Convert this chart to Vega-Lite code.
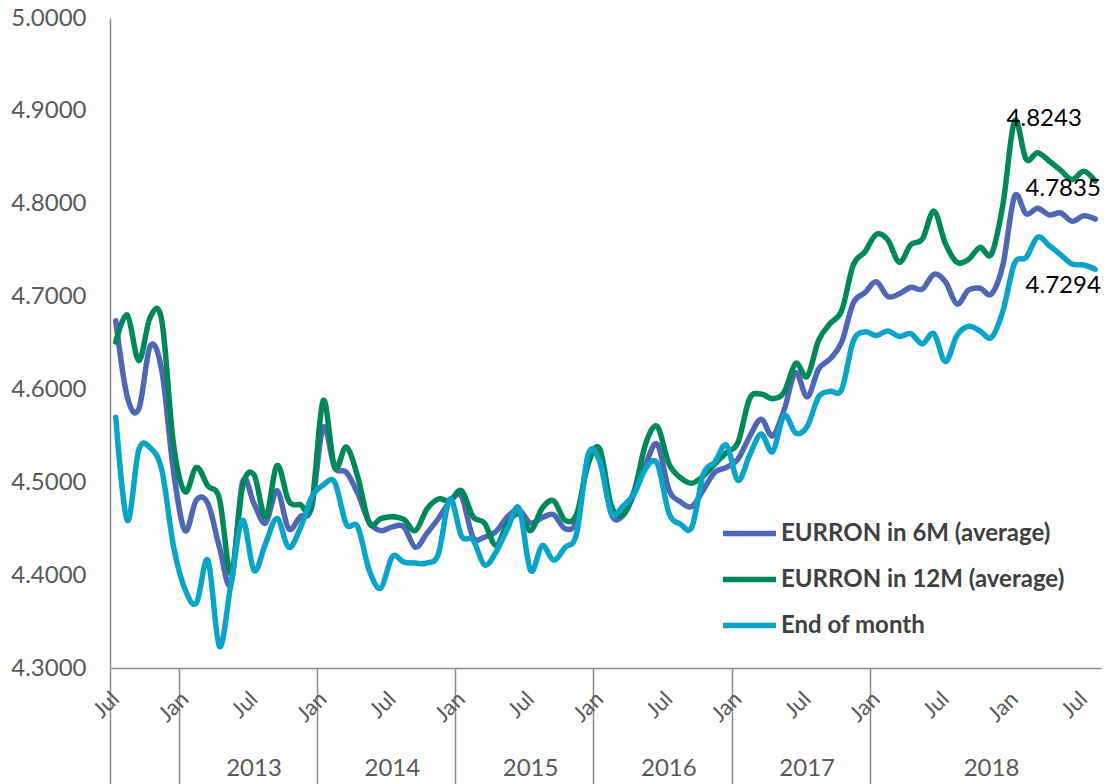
{
  "$schema": "https://vega.github.io/schema/vega-lite/v6.json",
  "width": 991,
  "height": 650,
  "autosize": {"type": "none"},
  "padding": {"left": 110, "top": 18, "right": 16, "bottom": 116},
  "background": "white",
  "config": {
    "view": {"stroke": null},
    "font": "Lato",
    "axis": {"grid": false, "title": null, "labelFont": "Lato"},
    "legend": {"labelFont": "Lato"}
  },
  "data": {"values": [
    {"month": "2012-07", "EURRON in 6M (average)": 4.674, "EURRON in 12M (average)": 4.651, "End of month": 4.570},
    {"month": "2012-08", "EURRON in 6M (average)": 4.592, "EURRON in 12M (average)": 4.680, "End of month": 4.459},
    {"month": "2012-09", "EURRON in 6M (average)": 4.579, "EURRON in 12M (average)": 4.631, "End of month": 4.535},
    {"month": "2012-10", "EURRON in 6M (average)": 4.647, "EURRON in 12M (average)": 4.678, "End of month": 4.537},
    {"month": "2012-11", "EURRON in 6M (average)": 4.620, "EURRON in 12M (average)": 4.674, "End of month": 4.513},
    {"month": "2012-12", "EURRON in 6M (average)": 4.513, "EURRON in 12M (average)": 4.542, "End of month": 4.432},
    {"month": "2013-01", "EURRON in 6M (average)": 4.448, "EURRON in 12M (average)": 4.490, "End of month": 4.385},
    {"month": "2013-02", "EURRON in 6M (average)": 4.481, "EURRON in 12M (average)": 4.516, "End of month": 4.370},
    {"month": "2013-03", "EURRON in 6M (average)": 4.477, "EURRON in 12M (average)": 4.496, "End of month": 4.416},
    {"month": "2013-04", "EURRON in 6M (average)": 4.430, "EURRON in 12M (average)": 4.482, "End of month": 4.323},
    {"month": "2013-05", "EURRON in 6M (average)": 4.391, "EURRON in 12M (average)": 4.402, "End of month": 4.391},
    {"month": "2013-06", "EURRON in 6M (average)": 4.500, "EURRON in 12M (average)": 4.495, "End of month": 4.459},
    {"month": "2013-07", "EURRON in 6M (average)": 4.477, "EURRON in 12M (average)": 4.508, "End of month": 4.405},
    {"month": "2013-08", "EURRON in 6M (average)": 4.456, "EURRON in 12M (average)": 4.463, "End of month": 4.434},
    {"month": "2013-09", "EURRON in 6M (average)": 4.491, "EURRON in 12M (average)": 4.518, "End of month": 4.461},
    {"month": "2013-10", "EURRON in 6M (average)": 4.450, "EURRON in 12M (average)": 4.480, "End of month": 4.430},
    {"month": "2013-11", "EURRON in 6M (average)": 4.463, "EURRON in 12M (average)": 4.476, "End of month": 4.450},
    {"month": "2013-12", "EURRON in 6M (average)": 4.473, "EURRON in 12M (average)": 4.476, "End of month": 4.484},
    {"month": "2014-01", "EURRON in 6M (average)": 4.559, "EURRON in 12M (average)": 4.588, "End of month": 4.497},
    {"month": "2014-02", "EURRON in 6M (average)": 4.516, "EURRON in 12M (average)": 4.516, "End of month": 4.500},
    {"month": "2014-03", "EURRON in 6M (average)": 4.511, "EURRON in 12M (average)": 4.538, "End of month": 4.455},
    {"month": "2014-04", "EURRON in 6M (average)": 4.488, "EURRON in 12M (average)": 4.506, "End of month": 4.452},
    {"month": "2014-05", "EURRON in 6M (average)": 4.457, "EURRON in 12M (average)": 4.456, "End of month": 4.405},
    {"month": "2014-06", "EURRON in 6M (average)": 4.448, "EURRON in 12M (average)": 4.461, "End of month": 4.386},
    {"month": "2014-07", "EURRON in 6M (average)": 4.452, "EURRON in 12M (average)": 4.463, "End of month": 4.420},
    {"month": "2014-08", "EURRON in 6M (average)": 4.452, "EURRON in 12M (average)": 4.460, "End of month": 4.414},
    {"month": "2014-09", "EURRON in 6M (average)": 4.430, "EURRON in 12M (average)": 4.448, "End of month": 4.413},
    {"month": "2014-10", "EURRON in 6M (average)": 4.445, "EURRON in 12M (average)": 4.471, "End of month": 4.413},
    {"month": "2014-11", "EURRON in 6M (average)": 4.461, "EURRON in 12M (average)": 4.482, "End of month": 4.423},
    {"month": "2014-12", "EURRON in 6M (average)": 4.479, "EURRON in 12M (average)": 4.480, "End of month": 4.482},
    {"month": "2015-01", "EURRON in 6M (average)": 4.485, "EURRON in 12M (average)": 4.491, "End of month": 4.442},
    {"month": "2015-02", "EURRON in 6M (average)": 4.441, "EURRON in 12M (average)": 4.463, "End of month": 4.438},
    {"month": "2015-03", "EURRON in 6M (average)": 4.441, "EURRON in 12M (average)": 4.456, "End of month": 4.411},
    {"month": "2015-04", "EURRON in 6M (average)": 4.447, "EURRON in 12M (average)": 4.432, "End of month": 4.425},
    {"month": "2015-05", "EURRON in 6M (average)": 4.463, "EURRON in 12M (average)": 4.456, "End of month": 4.450},
    {"month": "2015-06", "EURRON in 6M (average)": 4.470, "EURRON in 12M (average)": 4.466, "End of month": 4.472},
    {"month": "2015-07", "EURRON in 6M (average)": 4.456, "EURRON in 12M (average)": 4.448, "End of month": 4.405},
    {"month": "2015-08", "EURRON in 6M (average)": 4.462, "EURRON in 12M (average)": 4.472, "End of month": 4.432},
    {"month": "2015-09", "EURRON in 6M (average)": 4.465, "EURRON in 12M (average)": 4.480, "End of month": 4.416},
    {"month": "2015-10", "EURRON in 6M (average)": 4.450, "EURRON in 12M (average)": 4.459, "End of month": 4.430},
    {"month": "2015-11", "EURRON in 6M (average)": 4.459, "EURRON in 12M (average)": 4.466, "End of month": 4.445},
    {"month": "2015-12", "EURRON in 6M (average)": 4.525, "EURRON in 12M (average)": 4.520, "End of month": 4.530},
    {"month": "2016-01", "EURRON in 6M (average)": 4.530, "EURRON in 12M (average)": 4.536, "End of month": 4.522},
    {"month": "2016-02", "EURRON in 6M (average)": 4.466, "EURRON in 12M (average)": 4.475, "End of month": 4.467},
    {"month": "2016-03", "EURRON in 6M (average)": 4.464, "EURRON in 12M (average)": 4.465, "End of month": 4.474},
    {"month": "2016-04", "EURRON in 6M (average)": 4.488, "EURRON in 12M (average)": 4.491, "End of month": 4.488},
    {"month": "2016-05", "EURRON in 6M (average)": 4.520, "EURRON in 12M (average)": 4.542, "End of month": 4.515},
    {"month": "2016-06", "EURRON in 6M (average)": 4.541, "EURRON in 12M (average)": 4.560, "End of month": 4.520},
    {"month": "2016-07", "EURRON in 6M (average)": 4.492, "EURRON in 12M (average)": 4.520, "End of month": 4.467},
    {"month": "2016-08", "EURRON in 6M (average)": 4.479, "EURRON in 12M (average)": 4.505, "End of month": 4.455},
    {"month": "2016-09", "EURRON in 6M (average)": 4.474, "EURRON in 12M (average)": 4.499, "End of month": 4.452},
    {"month": "2016-10", "EURRON in 6M (average)": 4.492, "EURRON in 12M (average)": 4.507, "End of month": 4.509},
    {"month": "2016-11", "EURRON in 6M (average)": 4.511, "EURRON in 12M (average)": 4.520, "End of month": 4.522},
    {"month": "2016-12", "EURRON in 6M (average)": 4.516, "EURRON in 12M (average)": 4.532, "End of month": 4.540},
    {"month": "2017-01", "EURRON in 6M (average)": 4.525, "EURRON in 12M (average)": 4.543, "End of month": 4.502},
    {"month": "2017-02", "EURRON in 6M (average)": 4.549, "EURRON in 12M (average)": 4.590, "End of month": 4.529},
    {"month": "2017-03", "EURRON in 6M (average)": 4.568, "EURRON in 12M (average)": 4.595, "End of month": 4.552},
    {"month": "2017-04", "EURRON in 6M (average)": 4.550, "EURRON in 12M (average)": 4.590, "End of month": 4.533},
    {"month": "2017-05", "EURRON in 6M (average)": 4.578, "EURRON in 12M (average)": 4.597, "End of month": 4.572},
    {"month": "2017-06", "EURRON in 6M (average)": 4.618, "EURRON in 12M (average)": 4.628, "End of month": 4.553},
    {"month": "2017-07", "EURRON in 6M (average)": 4.592, "EURRON in 12M (average)": 4.614, "End of month": 4.560},
    {"month": "2017-08", "EURRON in 6M (average)": 4.622, "EURRON in 12M (average)": 4.653, "End of month": 4.592},
    {"month": "2017-09", "EURRON in 6M (average)": 4.633, "EURRON in 12M (average)": 4.671, "End of month": 4.598},
    {"month": "2017-10", "EURRON in 6M (average)": 4.651, "EURRON in 12M (average)": 4.685, "End of month": 4.600},
    {"month": "2017-11", "EURRON in 6M (average)": 4.693, "EURRON in 12M (average)": 4.734, "End of month": 4.652},
    {"month": "2017-12", "EURRON in 6M (average)": 4.704, "EURRON in 12M (average)": 4.748, "End of month": 4.662},
    {"month": "2018-01", "EURRON in 6M (average)": 4.716, "EURRON in 12M (average)": 4.767, "End of month": 4.658},
    {"month": "2018-02", "EURRON in 6M (average)": 4.700, "EURRON in 12M (average)": 4.761, "End of month": 4.663},
    {"month": "2018-03", "EURRON in 6M (average)": 4.703, "EURRON in 12M (average)": 4.737, "End of month": 4.657},
    {"month": "2018-04", "EURRON in 6M (average)": 4.710, "EURRON in 12M (average)": 4.756, "End of month": 4.660},
    {"month": "2018-05", "EURRON in 6M (average)": 4.708, "EURRON in 12M (average)": 4.762, "End of month": 4.649},
    {"month": "2018-06", "EURRON in 6M (average)": 4.724, "EURRON in 12M (average)": 4.792, "End of month": 4.660},
    {"month": "2018-07", "EURRON in 6M (average)": 4.716, "EURRON in 12M (average)": 4.757, "End of month": 4.630},
    {"month": "2018-08", "EURRON in 6M (average)": 4.692, "EURRON in 12M (average)": 4.737, "End of month": 4.658},
    {"month": "2018-09", "EURRON in 6M (average)": 4.707, "EURRON in 12M (average)": 4.740, "End of month": 4.668},
    {"month": "2018-10", "EURRON in 6M (average)": 4.709, "EURRON in 12M (average)": 4.753, "End of month": 4.663},
    {"month": "2018-11", "EURRON in 6M (average)": 4.703, "EURRON in 12M (average)": 4.746, "End of month": 4.656},
    {"month": "2018-12", "EURRON in 6M (average)": 4.735, "EURRON in 12M (average)": 4.800, "End of month": 4.685},
    {"month": "2019-01", "EURRON in 6M (average)": 4.808, "EURRON in 12M (average)": 4.889, "End of month": 4.736},
    {"month": "2019-02", "EURRON in 6M (average)": 4.789, "EURRON in 12M (average)": 4.848, "End of month": 4.742},
    {"month": "2019-03", "EURRON in 6M (average)": 4.795, "EURRON in 12M (average)": 4.855, "End of month": 4.764},
    {"month": "2019-04", "EURRON in 6M (average)": 4.788, "EURRON in 12M (average)": 4.846, "End of month": 4.755},
    {"month": "2019-05", "EURRON in 6M (average)": 4.790, "EURRON in 12M (average)": 4.836, "End of month": 4.745},
    {"month": "2019-06", "EURRON in 6M (average)": 4.781, "EURRON in 12M (average)": 4.826, "End of month": 4.735},
    {"month": "2019-07", "EURRON in 6M (average)": 4.787, "EURRON in 12M (average)": 4.835, "End of month": 4.734},
    {"month": "2019-08", "EURRON in 6M (average)": 4.7835, "EURRON in 12M (average)": 4.8243, "End of month": 4.7294}
  ]},
  "resolve": {"scale": {"x": "shared", "y": "shared"}, "axis": {"x": "independent", "y": "independent"}},
  "layer": [
    {
      "mark": {"type": "rule", "opacity": 0},
      "encoding": {
        "x": {"field": "month", "type": "ordinal", "scale": {"type": "band", "paddingInner": 0, "paddingOuter": 0},
          "axis": {"orient": "bottom", "values": ["2012-07", "2013-01", "2014-01", "2015-01", "2016-01", "2017-01", "2018-01"],
            "bandPosition": 0, "ticks": true, "tickSize": 116, "tickColor": "#8c8c8c", "tickWidth": 1.5,
            "labels": false, "domain": false, "title": null}}
      }
    },
    {
      "mark": {"type": "rule", "opacity": 0},
      "encoding": {
        "x": {"field": "month", "type": "ordinal",
          "axis": {"orient": "bottom", "values": ["2013-07", "2014-07", "2015-07", "2016-07", "2017-07", "2018-11"],
            "bandPosition": 0, "ticks": false, "tickSize": 0, "domain": false, "title": null,
            "labelExpr": "substring(datum.value, 0, 4)", "labelAngle": 0, "labelAlign": "center", "labelBaseline": "top",
            "labelPadding": 88, "labelFontSize": 24, "labelColor": "#595959"}}
      }
    },
    {
      "transform": [{"fold": ["EURRON in 6M (average)", "EURRON in 12M (average)", "End of month"], "as": ["series", "value"]}],
      "mark": {"type": "line", "interpolate": "cardinal", "strokeWidth": 5.5, "strokeCap": "round", "strokeJoin": "round"},
      "encoding": {
        "x": {"field": "month", "type": "ordinal", "bandPosition": 0.5,
          "axis": {"orient": "bottom", "values": ["2012-07", "2013-01", "2013-07", "2014-01", "2014-07", "2015-01", "2015-07", "2016-01", "2016-07", "2017-01", "2017-07", "2018-01", "2018-07", "2019-01", "2019-07"],
            "labelExpr": "substring(datum.value, 5) == '01' ? 'Jan' : 'Jul'",
            "labelAngle": -45, "labelAlign": "right", "labelBaseline": "middle",
            "ticks": false, "tickSize": 0, "labelPadding": 27, "labelFontSize": 22, "labelColor": "#595959",
            "domain": true, "domainColor": "#8c8c8c", "domainWidth": 1.5, "title": null}},
        "y": {"field": "value", "type": "quantitative",
          "scale": {"domain": [4.3, 5.0], "zero": false, "nice": false},
          "axis": {"orient": "left", "values": [4.3, 4.4, 4.5, 4.6, 4.7, 4.8, 4.9, 5.0], "format": ".4f", "ticks": false, "tickSize": 0,
            "labelPadding": 24, "labelFontSize": 24, "labelColor": "#595959",
            "domain": true, "domainColor": "#8c8c8c", "domainWidth": 1.5, "title": null}},
        "color": {"field": "series", "type": "nominal",
          "scale": {"domain": ["EURRON in 6M (average)", "EURRON in 12M (average)", "End of month"], "range": ["#5067B6", "#00875A", "#0AA4C9"]},
          "legend": {"title": null, "orient": "none", "legendX": 610, "legendY": 486, "direction": "vertical",
            "symbolType": "stroke", "symbolSize": 2809, "symbolStrokeWidth": 5.5, "rowPadding": 4,
            "labelFontSize": 24, "labelFontWeight": "bold", "labelColor": "#404040", "labelOffset": 2, "labelLimit": 400}}
      }
    },
    {
      "transform": [{"filter": "datum.month == '2019-08'"}],
      "mark": {"type": "text", "dx": -51, "dy": -62, "fontSize": 24, "color": "#000000", "font": "Lato"},
      "encoding": {
        "x": {"field": "month", "type": "ordinal", "bandPosition": 0.5, "axis": null},
        "y": {"field": "EURRON in 12M (average)", "type": "quantitative", "axis": null},
        "text": {"field": "EURRON in 12M (average)", "type": "quantitative", "format": ".4f"}
      }
    },
    {
      "transform": [{"filter": "datum.month == '2019-08'"}],
      "mark": {"type": "text", "dx": -32, "dy": -30, "fontSize": 24, "color": "#000000", "font": "Lato"},
      "encoding": {
        "x": {"field": "month", "type": "ordinal", "bandPosition": 0.5, "axis": null},
        "y": {"field": "EURRON in 6M (average)", "type": "quantitative", "axis": null},
        "text": {"field": "EURRON in 6M (average)", "type": "quantitative", "format": ".4f"}
      }
    },
    {
      "transform": [{"filter": "datum.month == '2019-08'"}],
      "mark": {"type": "text", "dx": -32, "dy": 17, "fontSize": 24, "color": "#000000", "font": "Lato"},
      "encoding": {
        "x": {"field": "month", "type": "ordinal", "bandPosition": 0.5, "axis": null},
        "y": {"field": "End of month", "type": "quantitative", "axis": null},
        "text": {"field": "End of month", "type": "quantitative", "format": ".4f"}
      }
    }
  ]
}
